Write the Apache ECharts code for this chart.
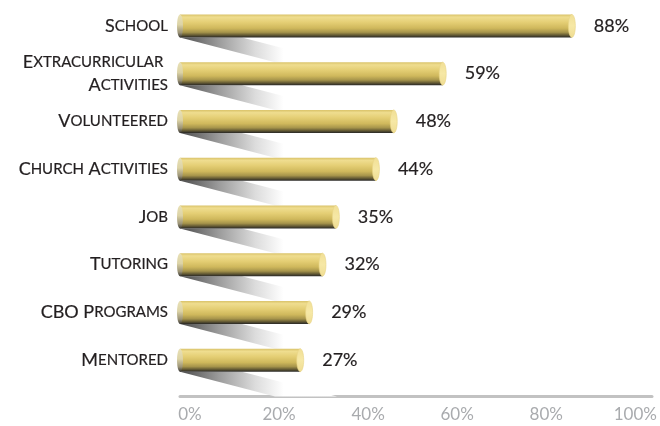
<!DOCTYPE html>
<html>
<head>
<meta charset="utf-8">
<script src="https://cdn.jsdelivr.net/npm/echarts@6/dist/echarts.min.js"></script>
<style>
  html, body { margin: 0; padding: 0; background: #fff; }
  #chart { width: 660px; height: 426px; }
</style>
</head>
<body>
<div id="chart"></div>
<script>
// Where young people spend their time (share of respondents)
const categories = [
  'School',
  'Extracurricular \nActivities',
  'Volunteered',
  'Church Activities',
  'Job',
  'Tutoring',
  'CBO Programs',
  'Mentored'
];
const values = [88, 59, 48, 44, 35, 32, 29, 27];
const tickValues = [0, 20, 40, 60, 80, 100];

const FONT = 'Lato, "Open Sans", sans-serif';
const INK = '#231f20';
const BAR_H = 23;

// Turn a label into rich-text small caps: capitals stay full size,
// lower-case letters become smaller capitals.
function smallCaps(text) {
  return text.split('\n').map(function (line) {
    let out = '';
    let run = '';
    let runBig = null;
    for (const ch of line) {
      const big = !(ch >= 'a' && ch <= 'z');
      if (runBig !== null && big !== runBig) {
        out += '{' + (runBig ? 'b' : 's') + '|' + (runBig ? run : run.toUpperCase()) + '}';
        run = '';
      }
      runBig = big;
      run += ch;
    }
    if (run) out += '{' + (runBig ? 'b' : 's') + '|' + (runBig ? run : run.toUpperCase()) + '}';
    return out;
  }).join('\n');
}

const chart = echarts.init(document.getElementById('chart'), null, { renderer: 'canvas' });

const barGradient = new echarts.graphic.LinearGradient(0, 0, 0, 1, [
  { offset: 0, color: '#d8c167' },
  { offset: 0.12, color: '#efdd8f' },
  { offset: 0.35, color: '#e4ce74' },
  { offset: 0.6, color: '#cfb85c' },
  { offset: 0.78, color: '#a6944b' },
  { offset: 0.9, color: '#655b34' },
  { offset: 1, color: '#2a2926' }
]);

const pairs = values.map(function (v, i) { return [v, i]; });

const inkText = { color: INK, textBorderColor: INK, textBorderWidth: 0.2 };

chart.setOption({
  animation: false,
  grid: { left: 180, right: 8, top: 2, bottom: 42, containLabel: false },
  xAxis: {
    type: 'value',
    min: 0,
    max: 106,
    interval: 20,
    offset: 12,
    axisLine: { show: true, lineStyle: { color: '#c2c2c2', width: 3 } },
    axisTick: { show: false },
    splitLine: { show: false },
    axisLabel: {
      margin: 10,
      color: '#a9abae',
      fontSize: 17,
      fontFamily: FONT,
      align: 'center',
      padding: [0, 0, 0, 20],
      formatter: function (v) {
        return tickValues.indexOf(v) >= 0 ? v + '%' : '';
      }
    }
  },
  yAxis: {
    type: 'category',
    inverse: true,
    data: categories,
    axisLine: { show: false },
    axisTick: { show: false },
    axisLabel: {
      margin: 12,
      align: 'right',
      formatter: function (v) { return smallCaps(v); },
      rich: {
        b: Object.assign({ fontSize: 18, fontFamily: FONT, lineHeight: 23 }, inkText),
        s: Object.assign({ fontSize: 15, fontFamily: FONT, lineHeight: 23 }, inkText)
      }
    }
  },
  series: [
    {
      // slanted shadow falling from each bar's base
      type: 'custom',
      z: 1,
      silent: true,
      data: pairs,
      encode: { x: 0, y: 1 },
      renderItem: function (params, api) {
        const base = api.coord([0, api.value(1)]);
        const band = api.size([0, 1])[1];
        const yb = base[1] + BAR_H / 2;
        const d = band - BAR_H;
        const x0 = base[0];
        const dx = 95;
        return {
          type: 'polygon',
          shape: {
            points: [
              [x0, yb],
              [x0 + 62, yb],
              [x0 + 62 + dx, yb + d],
              [x0 + dx, yb + d]
            ]
          },
          style: {
            fill: new echarts.graphic.LinearGradient(0, 0, 1, 0, [
              { offset: 0, color: '#4b4b4b' },
              { offset: 0.25, color: '#9c9c9c' },
              { offset: 0.48, color: '#dcdcdc' },
              { offset: 0.66, color: '#ffffff' },
              { offset: 1, color: '#ffffff' }
            ])
          }
        };
      }
    },
    {
      type: 'bar',
      z: 2,
      data: values,
      barWidth: BAR_H,
      itemStyle: { color: barGradient },
      label: Object.assign({
        show: true,
        position: 'right',
        distance: 22,
        formatter: '{c}%',
        fontSize: 18,
        fontFamily: FONT
      }, inkText)
    },
    {
      // rounded cylinder ends
      type: 'custom',
      z: 3,
      silent: true,
      data: pairs,
      encode: { x: 0, y: 1 },
      renderItem: function (params, api) {
        const start = api.coord([0, api.value(1)]);
        const end = api.coord([api.value(0), api.value(1)]);
        const r = BAR_H / 2;
        return {
          type: 'group',
          children: [
            {
              type: 'ellipse',
              shape: { cx: start[0], cy: start[1], rx: 3, ry: r },
              style: {
                fill: new echarts.graphic.LinearGradient(0, 0, 0, 1, [
                  { offset: 0, color: '#e9e1b6' },
                  { offset: 0.45, color: '#dcd3a6' },
                  { offset: 0.8, color: '#9a9276' },
                  { offset: 1, color: '#3a3935' }
                ])
              }
            },
            {
              type: 'ellipse',
              shape: { cx: end[0], cy: end[1], rx: 3.5, ry: r },
              style: {
                fill: new echarts.graphic.LinearGradient(0, 0, 0, 1, [
                  { offset: 0, color: '#f1df95' },
                  { offset: 0.5, color: '#f6e8a6' },
                  { offset: 1, color: '#efdc92' }
                ]),
                stroke: '#e8d385',
                lineWidth: 0.6
              }
            }
          ]
        };
      }
    }
  ]
});
</script>
</body>
</html>
